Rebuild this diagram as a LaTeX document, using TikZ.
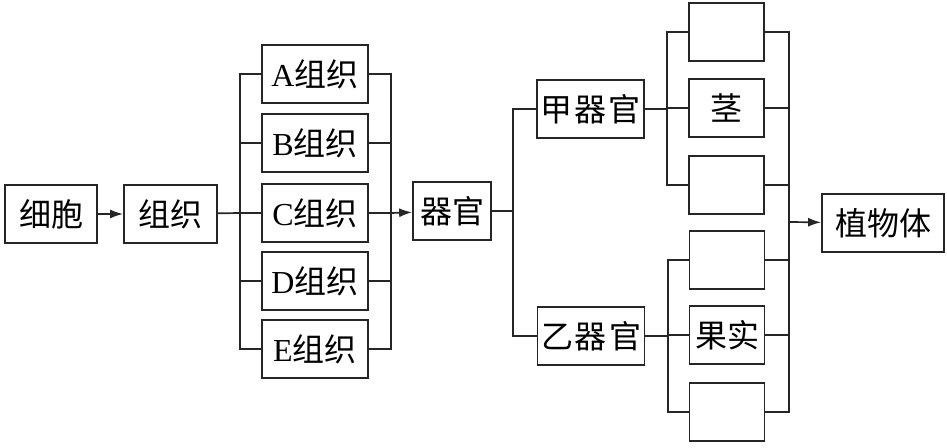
\documentclass[tikz,border=0pt]{standalone}
\usepackage{fontspec}
\setmainfont{Liberation Serif}
\newfontfamily\cjk{Noto Sans CJK SC}
\usetikzlibrary{positioning,arrows.meta}
\tikzset{
  box/.style={draw=black!85, line width=1.7pt, minimum height=58pt, inner sep=0pt, align=center, font=\fontsize{32}{34}\selectfont},
  cellc/.style={box, minimum width=92pt},
  tisc/.style={box, minimum width=106pt},
  orgc/.style={box, minimum width=107pt},
  partc/.style={box, minimum width=75pt},
  flow/.style={-{Latex[length=13pt,width=9pt]}, line width=1.7pt, black!85},
  link/.style={line width=1.7pt, black!85}
}
\begin{document}
\begin{tikzpicture}[x=1pt,y=-1pt]
  \useasboundingbox (0,0) rectangle (947,447);
  \node[cellc] (cell) at (51,214) {\cjk 细胞};
  \node[cellc, minimum width=93pt] (tis) at (170.5,214) {\cjk 组织};

  \node[tisc] (A) at (315,74) {A\cjk 组织};
  \node[tisc] (B) at (315,143) {B\cjk 组织};
  \node[tisc] (C) at (315,213) {C\cjk 组织};
  \node[tisc] (D) at (315,281) {D\cjk 组织};
  \node[tisc] (E) at (315,349) {E\cjk 组织};

  \node[box, minimum width=78pt] (org) at (452,211) {\cjk 器官};
  \node[orgc] (jia) at (590.5,109) {\cjk 甲\kern2pt 器\kern2pt 官};
  \node[orgc] (yi) at (591,336) {\cjk 乙\kern2pt 器\kern2pt 官};

  \node[partc] (p1) at (726.5,32) {};
  \node[partc] (p2) at (726.5,108) {\cjk 茎};
  \node[partc] (p3) at (726.5,185) {};
  \node[partc] (p4) at (727,260) {};
  \node[partc] (p5) at (727,335) {\cjk 果实};
  \node[partc] (p6) at (727,412) {};

  \node[box, minimum width=122pt] (plant) at (883,223) {\cjk 植物体};

  \coordinate (tL) at (240,213);
  \coordinate (tR) at (391,213);
  \coordinate (oL) at (513,211);
  \coordinate (jL) at (667,109);
  \coordinate (yL) at (668,336);
  \coordinate (pR) at (789,222);

  \draw[flow] (cell) -- (tis);
  \draw[link] (tis) -- (tL);
  \foreach \t in {A,B,C,D,E} {
    \draw[link] (tL) |- (\t.west);
    \draw[link] (\t.east) -| (tR);
  }
  \draw[flow] (tR) -- (org);
  \draw[link] (org) -- (oL);
  \draw[link] (oL) |- (jia.west);
  \draw[link] (oL) |- (yi.west);
  \draw[link] (jia) -- (jL);
  \draw[link] (yi) -- (yL);
  \foreach \p in {p1,p2,p3} \draw[link] (jL) |- (\p.west);
  \foreach \p in {p4,p5,p6} \draw[link] (yL) |- (\p.west);
  \foreach \p in {p1,p2,p3,p4,p5,p6} \draw[link] (\p.east) -| (pR);
  \draw[flow] (pR) -- (plant);
\end{tikzpicture}
\end{document}
